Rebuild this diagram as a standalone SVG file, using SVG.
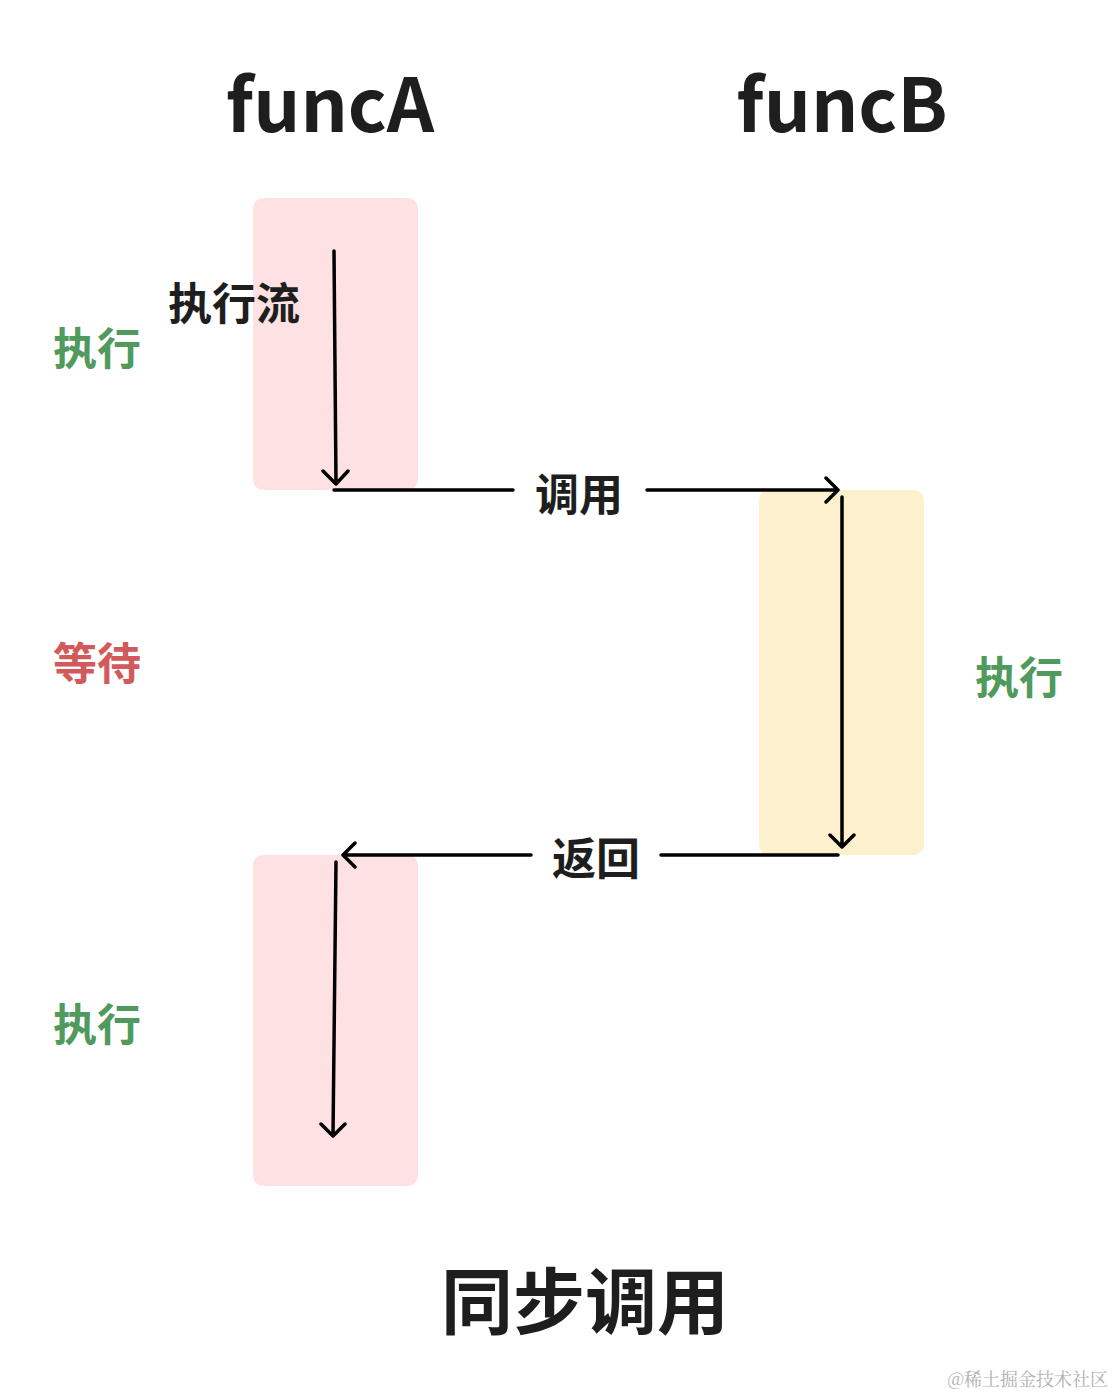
<svg xmlns="http://www.w3.org/2000/svg" width="1114" height="1396" viewBox="0 0 1114 1396">
<style>
.t{font-family:"Noto Sans CJK SC","Noto Sans",sans-serif;font-weight:bold;fill:#1e1e1e}
.g{font-family:"Noto Sans CJK SC",sans-serif;font-weight:bold;fill:#4f9a5c;font-size:44px}
.ln{stroke:#000;stroke-width:3.5;fill:none;stroke-linecap:round;stroke-linejoin:round}
</style>
<rect width="1114" height="1396" fill="#fff"/>
<g id="funcA"><text class="t" x="330" y="132" font-size="74" text-anchor="middle">funcA</text></g>
<g id="funcB"><text class="t" x="842" y="132" font-size="74" text-anchor="middle">funcB</text></g>
<g id="boxA1"><rect x="253" y="198" width="165" height="292" rx="10" fill="#fee2e3"/></g>
<g id="boxB"><rect x="759" y="490" width="165" height="365" rx="10" fill="#fdf1cd"/></g>
<g id="boxA2"><rect x="253" y="855" width="165" height="331" rx="10" fill="#fee2e3"/></g>
<g id="labels">
<text class="t" x="234" y="320" font-size="44" text-anchor="middle">执行流</text>
<text class="g" x="97" y="365" text-anchor="middle">执行</text>
<text x="97" y="680" text-anchor="middle" font-family="Noto Sans CJK SC,sans-serif" font-weight="bold" font-size="44" fill="#d35a5a">等待</text>
<text class="g" x="1019" y="694" text-anchor="middle">执行</text>
<text class="g" x="97" y="1041" text-anchor="middle">执行</text>
<text class="t" x="579" y="511" font-size="44" text-anchor="middle">调用</text>
<text class="t" x="596" y="875" font-size="44" text-anchor="middle">返回</text>
<text class="t" x="585" y="1328" font-size="72" text-anchor="middle">同步调用</text>
<text x="1108" y="1386" text-anchor="end" font-family="Noto Serif CJK SC,Noto Sans CJK SC,serif" font-size="18" fill="#b0b0b0">@稀土掘金技术社区</text>
</g>
<g id="connectors">
<path class="ln" d="M334 251 L336 483 M323 471 L336 484 L348 471"/>
<path class="ln" d="M334 490 H513 M647 490 H837 M826 478 L838 490 L826 502"/>
<path class="ln" d="M842 497 V847 M830 835 L842 847 L854 835"/>
<path class="ln" d="M838 855 H661 M531 855 H343 M355 843 L343 855 L355 867"/>
<path class="ln" d="M336 862 L333 1136 M321 1124 L333 1136 L345 1124"/>
</g>
</svg>
